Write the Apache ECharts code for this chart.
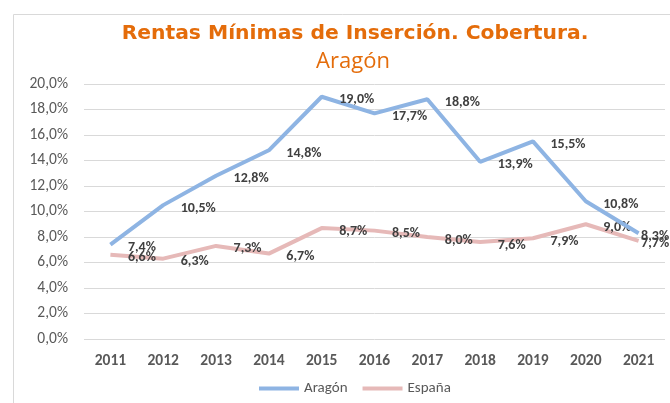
<!DOCTYPE html>
<html><head><meta charset="utf-8">
<script src="https://cdn.jsdelivr.net/npm/echarts@6/dist/echarts.min.js"></script>
<style>html,body{margin:0;padding:0;background:#fff}#c{width:670px;height:403px}</style>
</head><body><div id="c"></div>
<script>
const years = ['2011','2012','2013','2014','2015','2016','2017','2018','2019','2020','2021'];
const aragon = [7.4, 10.5, 12.8, 14.8, 19.0, 17.7, 18.8, 13.9, 15.5, 10.8, 8.3];
const espana = [6.6, 6.3, 7.3, 6.7, 8.7, 8.5, 8.0, 7.6, 7.9, 9.0, 7.7];
const seriesNames = ['Aragón', 'España'];
const seriesColors = ['#8EB4E3', '#E6B9B8'];
const titleText = 'Rentas Mínimas de Inserción. Cobertura.';
const subtitleText = 'Aragón';

const FONT = 'Carlito, "Liberation Sans", sans-serif';
const fmt = v => v.toFixed(1).replace('.', ',') + '%';
const chart = echarts.init(document.getElementById('c'), null, {renderer: 'canvas'});
const labelCfg = {
  show: true, position: 'right', distance: 17, offset: [0, 3],
  formatter: p => fmt(p.value),
  color: '#404040', fontWeight: 'bold', fontSize: 14, fontFamily: FONT
};
// Excel pulls the last labels back inside the plot area
const withLastLabel = arr => arr.map((v, i) => i === arr.length - 1
  ? {value: v, label: {distance: 2}} : v);
chart.setOption({
  animation: false,
  graphic: [{type: 'rect', shape: {x: 13.5, y: 14.5, width: 700, height: 420}, style: {fill: 'none', stroke: '#d9d9d9', lineWidth: 1}, z: -1}],
  title: [
    {text: titleText, left: 350, top: 19, textAlign: 'center',
     textStyle: {color: '#E46C0A', fontSize: 20.3, fontWeight: 'bold', fontFamily: '"DejaVu Sans", sans-serif'}},
    {text: subtitleText, left: 348, top: 46, textAlign: 'center',
     textStyle: {color: '#E46C0A', fontSize: 22, fontWeight: 'normal', fontFamily: '"Open Sans", sans-serif'}}
  ],
  legend: {
    data: seriesNames.map((n, i) => ({name: n, itemStyle: {color: seriesColors[i]}})),
    bottom: 2, left: 254, icon: 'rect', itemWidth: 40, itemHeight: 4, itemGap: 15,
    textStyle: {color: '#595959', fontSize: 15, fontFamily: FONT}
  },
  grid: {left: 84, right: 5, top: 84, bottom: 64},
  xAxis: {
    type: 'category', data: years, boundaryGap: true,
    axisLine: {show: false}, axisTick: {show: false},
    axisLabel: {color: '#595959', fontWeight: 'bold', fontSize: 15.5, margin: 14, fontFamily: FONT}
  },
  yAxis: {
    type: 'value', min: 0, max: 20, interval: 2,
    axisLabel: {formatter: v => v.toFixed(1).replace('.', ',') + '%', color: '#595959', fontSize: 15.5, margin: 16, fontFamily: FONT},
    splitLine: {lineStyle: {color: '#d9d9d9'}}
  },
  series: [
    {name: seriesNames[0], type: 'line', data: withLastLabel(aragon), symbol: 'circle', symbolSize: 1, showSymbol: true, color: seriesColors[0],
     itemStyle: {color: 'rgba(0,0,0,0)'}, lineStyle: {width: 4, color: seriesColors[0]}, label: labelCfg, z: 3},
    {name: seriesNames[1], type: 'line', data: withLastLabel(espana), symbol: 'circle', symbolSize: 1, showSymbol: true, color: seriesColors[1],
     itemStyle: {color: 'rgba(0,0,0,0)'}, lineStyle: {width: 4, color: seriesColors[1]}, label: labelCfg, z: 2}
  ]
});
</script></body></html>
